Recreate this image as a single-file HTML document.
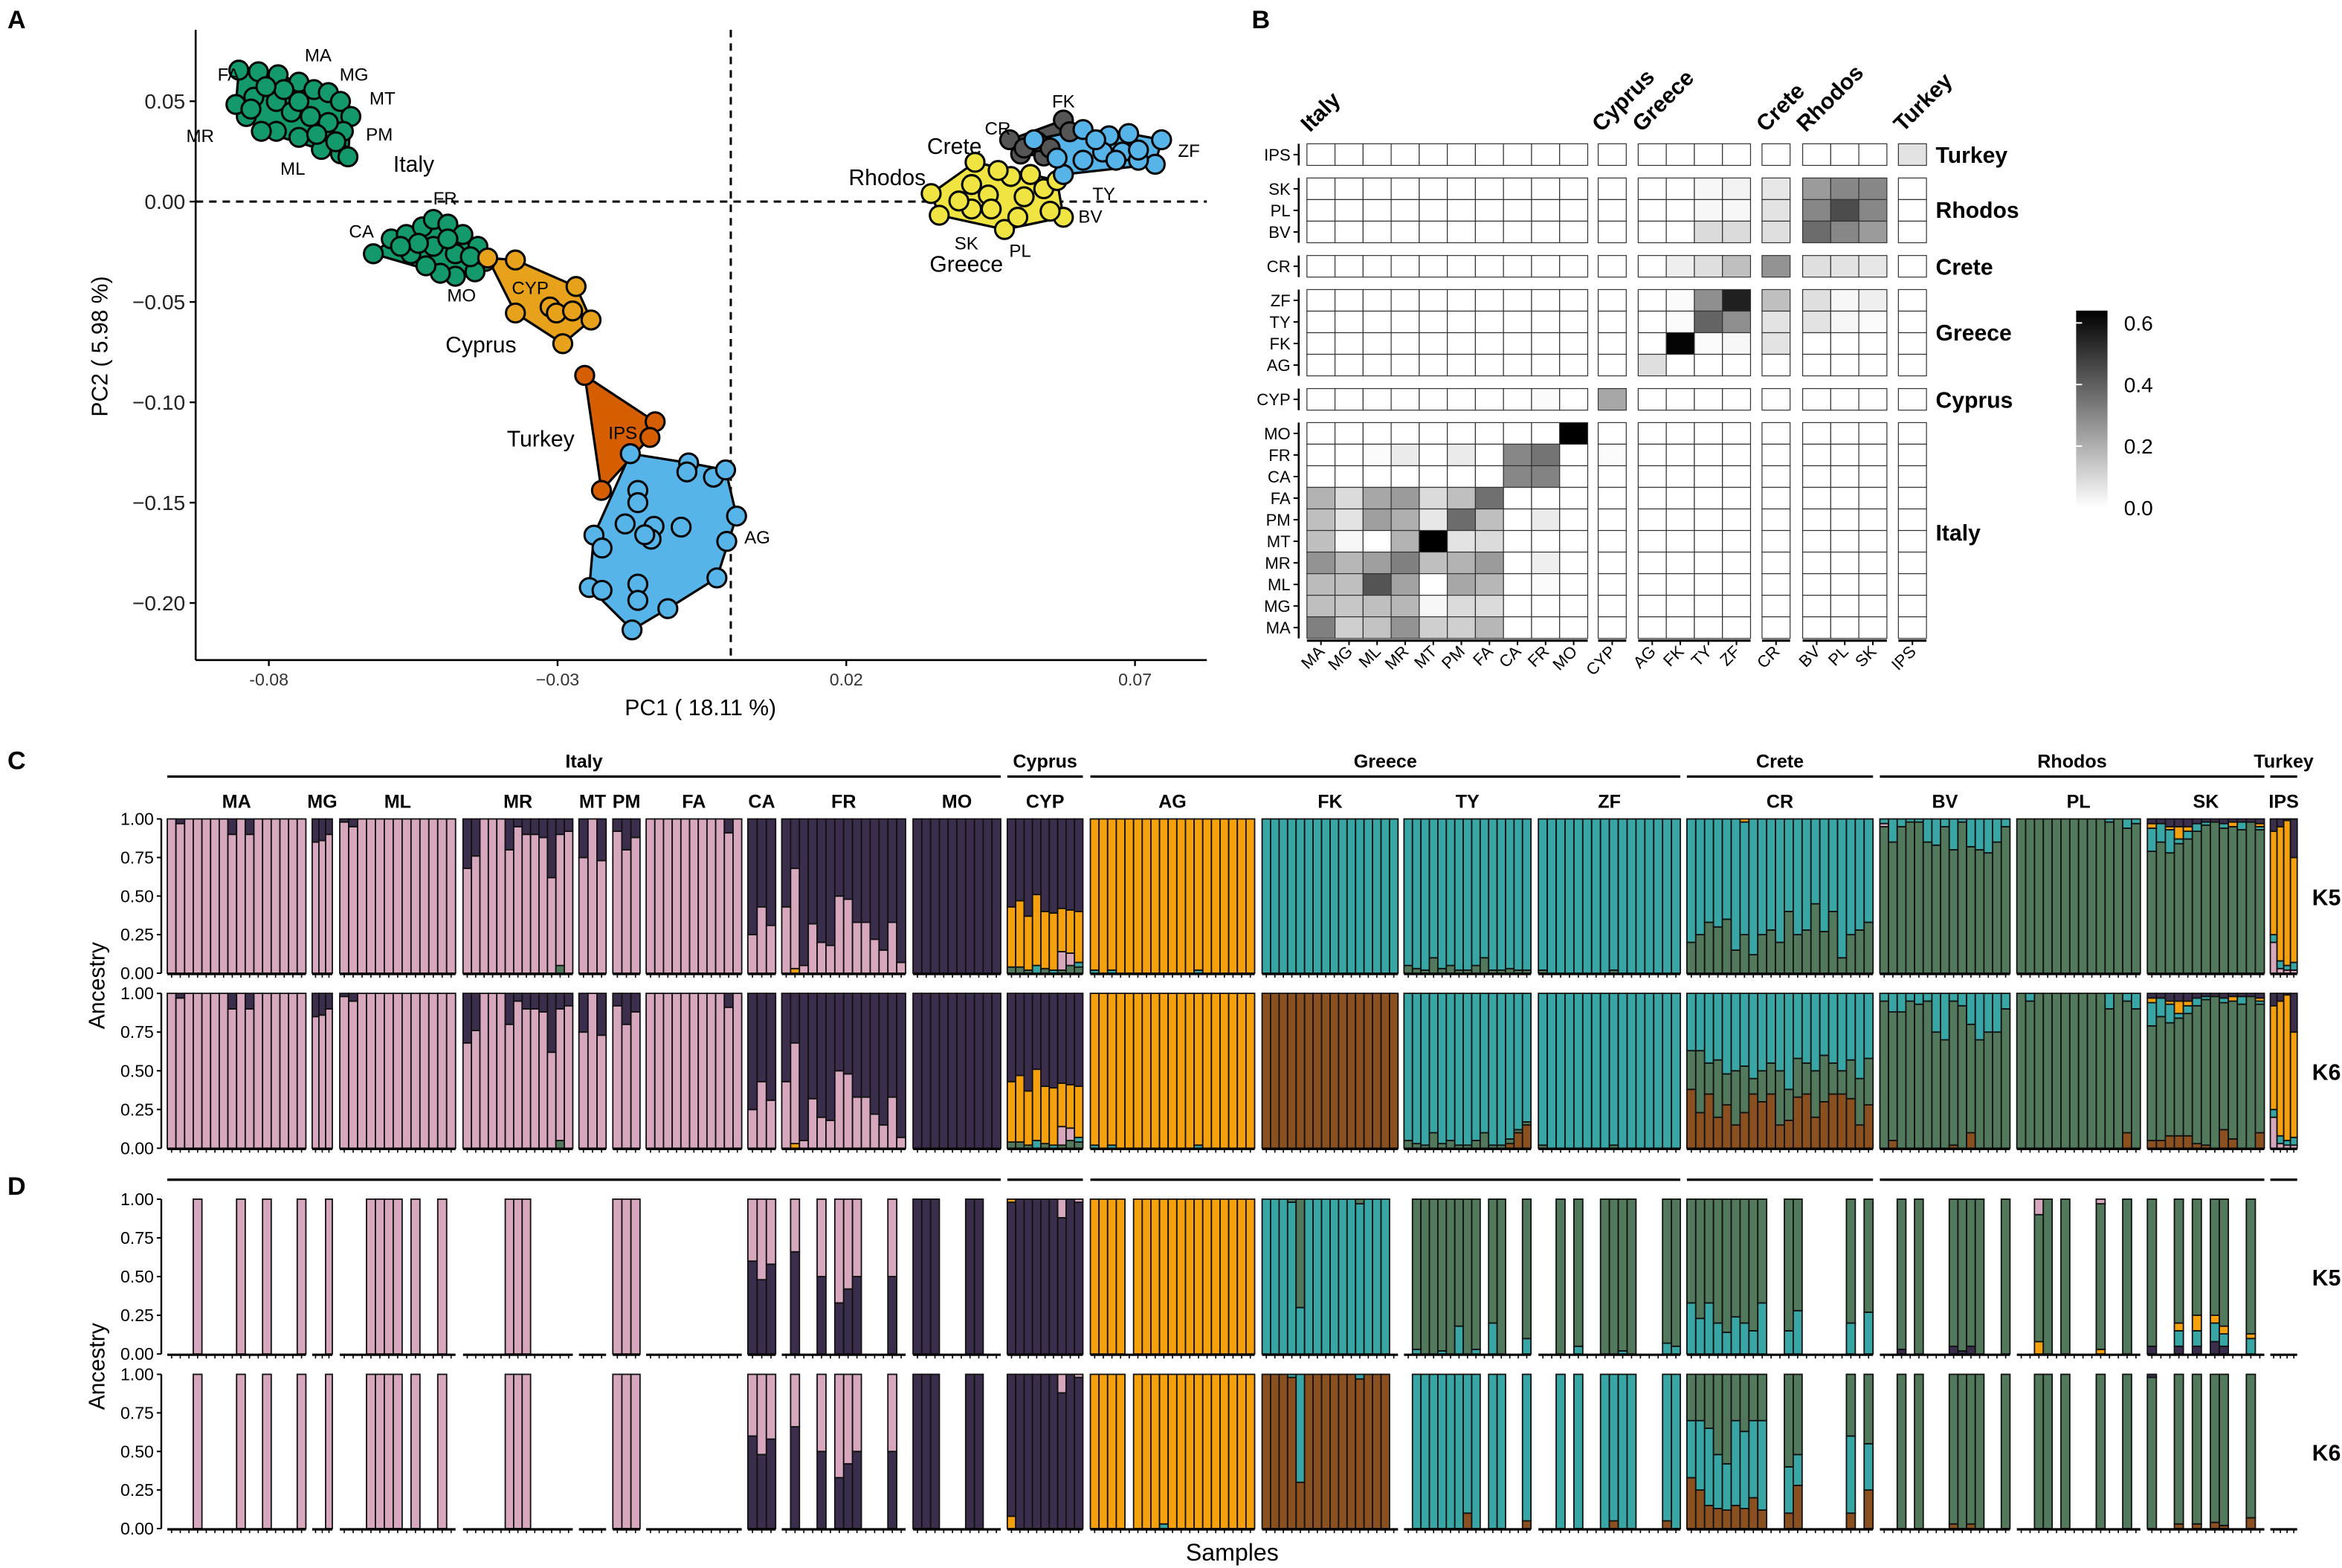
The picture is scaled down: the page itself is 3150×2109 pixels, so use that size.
<!DOCTYPE html>
<html><head><meta charset="utf-8"><title>PCA, Fst and Ancestry</title>
<style>
html,body{margin:0;padding:0;background:#fff;}
svg{display:block;font-family:"Liberation Sans",Arial,sans-serif;}
</style></head>
<body>
<svg id="fig" xmlns="http://www.w3.org/2000/svg" width="3150" height="2109" viewBox="0 0 1568 1050" preserveAspectRatio="none">
<rect x="0" y="0" width="1568" height="1050" fill="#fff"/>
<g id="panelA"></g>
<g id="panelB"></g>
<g id="panelC"></g>
<g id="panelD"></g>
<text x="5" y="19" font-size="17" font-weight="bold">A</text>
<text x="838" y="19" font-size="17" font-weight="bold">B</text>
<text x="5" y="515" font-size="17" font-weight="bold">C</text>
<text x="5" y="800" font-size="17" font-weight="bold">D</text>
</svg>
<script>
// ================= PANEL A DATA =================
const pcaGroups = ["italy-north","italy-south","cyprus","turkey","ag","rhodos","crete","greece"];
const pcaColors = ["#13996c","#13996c","#e8a11a","#d55e00","#56b4e9","#f0e442","#555555","#56b4e9"];
const italyNorthPC1 = [-0.0852,-0.0818,-0.0784,-0.0748,-0.0722,-0.0697,-0.0676,-0.0658,-0.0671,-0.0676,-0.0663,-0.0709,-0.0748,-0.0787,-0.0813,-0.0839,-0.0857,-0.0826,-0.0787,-0.0761,-0.0728,-0.0697,-0.0774,-0.0805,-0.0748,-0.0717,-0.0831,-0.0684];
const italyNorthPC2 = [0.0655,0.0647,0.0632,0.0595,0.0558,0.0543,0.0499,0.0424,0.035,0.0238,0.0223,0.026,0.032,0.035,0.035,0.0424,0.0484,0.052,0.0499,0.0446,0.0424,0.0394,0.0558,0.0573,0.0499,0.0335,0.0461,0.0298];
const italySouthPC1 = [-0.0619,-0.0588,-0.0562,-0.0534,-0.0515,-0.049,-0.0464,-0.0438,-0.0425,-0.0443,-0.0477,-0.0503,-0.0528,-0.0554,-0.0515,-0.0477,-0.049,-0.0541,-0.0451,-0.0572];
const italySouthPC2 = [-0.026,-0.0186,-0.0164,-0.0126,-0.0089,-0.0112,-0.0164,-0.0223,-0.0298,-0.035,-0.0372,-0.0357,-0.032,-0.026,-0.0223,-0.026,-0.0186,-0.0208,-0.0275,-0.0223];
const cyprusPC1 = [-0.0421,-0.0373,-0.0268,-0.0373,-0.0313,-0.0302,-0.0274,-0.0242,-0.0291];
const cyprusPC2 = [-0.0281,-0.0291,-0.0423,-0.0555,-0.0525,-0.0555,-0.0545,-0.059,-0.0708];
const turkeyPC1 = [-0.0253,-0.0131,-0.014,-0.0224];
const turkeyPC2 = [-0.0866,-0.1097,-0.1175,-0.1439];
const agPC1 = [-0.0174,-0.0073,-0.0076,-0.0030,-0.0009,0.0010,-0.0007,-0.0024,-0.0109,-0.0171,-0.0245,-0.0223,-0.0161,-0.0161,-0.0237,-0.0223,-0.0183,-0.0133,-0.0138,-0.0086,-0.0149,-0.0161,-0.0161];
const agPC2 = [-0.1256,-0.1302,-0.1347,-0.1373,-0.1337,-0.1567,-0.1693,-0.1875,-0.2028,-0.2134,-0.1923,-0.1937,-0.1906,-0.1987,-0.1662,-0.1726,-0.1606,-0.1618,-0.1682,-0.1622,-0.1660,-0.1439,-0.15];
const rhodosPC1 = [0.0347,0.0361,0.0423,0.0417,0.0446,0.0474,0.0417,0.0497,0.0576,0.0553,0.0485,0.0519,0.0463,0.0542,0.0451,0.0508,0.0565,0.0395];
const rhodosPC2 = [0.004,-0.0068,0.0196,0.0085,0.0033,-0.0139,-0.0037,-0.0078,-0.0078,-0.0048,0.0125,0.0135,0.0155,0.0064,-0.0037,0.0024,0.0105,0.0003];
const cretePC1 = [0.0483,0.0502,0.0576,0.0542,0.0531,0.0587,0.0553,0.0508];
const cretePC2 = [0.0308,0.0237,0.0406,0.0227,0.0298,0.0348,0.0267,0.0267];
const greecePC1 = [0.0746,0.0735,0.0689,0.0655,0.061,0.0644,0.0678,0.0706,0.0576,0.0565,0.061,0.0706,0.0632,0.0667,0.0525];
const greecePC2 = [0.0308,0.0186,0.0339,0.0328,0.0359,0.0247,0.0247,0.0206,0.0135,0.0217,0.0206,0.0257,0.0308,0.0206,0.0308];
const pcaX = [italyNorthPC1,italySouthPC1,cyprusPC1,turkeyPC1,agPC1,rhodosPC1,cretePC1,greecePC1];
const pcaY = [italyNorthPC2,italySouthPC2,cyprusPC2,turkeyPC2,agPC2,rhodosPC2,cretePC2,greecePC2];
const pc1Ticks = [-0.08,-0.03,0.02,0.07];
const pc1TickLabels = ["-0.08","\u22120.03","0.02","0.07"];
const pc2Ticks = [0.05,0.00,-0.05,-0.10,-0.15,-0.20];
const pc2TickLabels = ["0.05","0.00","\u22120.05","\u22120.10","\u22120.15","\u22120.20"];

// ================= PANEL B DATA =================
const fstRows = ["IPS","SK","PL","BV","CR","ZF","TY","FK","AG","CYP","MO","FR","CA","FA","PM","MT","MR","ML","MG","MA"];
const fstCols = ["MA","MG","ML","MR","MT","PM","FA","CA","FR","MO","CYP","AG","FK","TY","ZF","CR","BV","PL","SK","IPS"];
const fstValues = [
 [0,0,0,0,0,0,0,0,0,0, 0, 0,0,0,0, 0, 0,0,0, 0.07],
 [0,0,0,0,0,0,0,0,0,0, 0, 0,0,0.02,0.03, 0.06, 0.25,0.30,0.30, 0],
 [0,0,0,0,0,0,0,0,0,0, 0, 0,0,0.02,0.02, 0.07, 0.30,0.45,0.30, 0],
 [0,0,0,0,0,0,0,0,0,0, 0, 0,0,0.09,0.09, 0.08, 0.37,0.30,0.25, 0],
 [0,0,0,0,0,0,0,0,0,0, 0, 0,0.04,0.08,0.16, 0.27, 0.08,0.07,0.06, 0],
 [0,0,0,0,0,0,0,0,0,0, 0, 0,0.01,0.28,0.56, 0.16, 0.08,0.02,0.04, 0],
 [0,0,0,0,0,0,0,0,0,0, 0, 0,0.01,0.39,0.28, 0.07, 0.07,0.02,0.01, 0],
 [0,0,0,0,0,0,0,0,0,0, 0, 0,0.63,0.01,0.02, 0.07, 0,0,0, 0],
 [0,0,0,0,0,0,0,0,0,0, 0, 0.08,0,0,0, 0, 0,0,0, 0],
 [0,0,0,0,0,0,0,0,0.01,0, 0.22, 0,0,0,0, 0, 0,0,0, 0],
 [0,0,0,0,0,0,0,0,0,0.64, 0, 0,0,0,0, 0, 0,0,0, 0],
 [0,0,0.01,0.05,0,0.05,0,0.30,0.35,0, 0.01, 0,0,0,0, 0, 0,0,0, 0],
 [0,0,0,0,0,0,0,0.30,0.31,0, 0, 0,0,0,0, 0, 0,0,0, 0],
 [0.19,0.09,0.22,0.25,0.09,0.16,0.36,0,0,0, 0, 0,0,0,0, 0, 0,0,0, 0],
 [0.16,0.07,0.24,0.20,0.06,0.37,0.16,0,0.05,0, 0, 0,0,0,0, 0, 0,0,0, 0],
 [0.16,0.02,0,0.19,0.64,0.07,0.09,0,0,0, 0, 0,0,0,0, 0, 0,0,0, 0],
 [0.27,0.18,0.24,0.32,0.16,0.19,0.25,0,0.04,0, 0, 0,0,0,0, 0, 0,0,0, 0],
 [0.17,0.16,0.43,0.23,0,0.22,0.18,0,0.01,0, 0, 0,0,0,0, 0, 0,0,0, 0],
 [0.16,0.14,0.16,0.18,0.02,0.09,0.09,0,0,0, 0, 0,0,0,0, 0, 0,0,0, 0],
 [0.32,0.12,0.15,0.27,0.12,0.12,0.18,0,0,0, 0, 0,0,0,0, 0, 0,0,0, 0]
];
const fstLegendTicks = [0.0,0.2,0.4,0.6];
const fstMax = 0.64;

// ================= PANEL C/D DATA =================
const popNames = ["MA","MG","ML","MR","MT","PM","FA","CA","FR","MO","CYP","AG","FK","TY","ZF","CR","BV","PL","SK","IPS"];
const popCounts = [16,3,13,13,3,3,11,3,14,10,9,19,16,15,16,21,15,14,13,4];
const regionNames = ["Italy","Cyprus","Greece","Crete","Rhodos","Turkey"];
const regionFirstPop = [0,10,11,15,16,19];
const regionLastPop = [9,10,14,15,18,19];
const clusterColors = ["#d6a7bd","#3b2e4d","#f5a10e","#38a6a4","#52795b","#8b501f"];
// cluster indices: 0 pink, 1 purple, 2 orange, 3 teal, 4 green, 5 brown
// layers bottom->top; v=null => remainder
const k5Layers = {
 MA:[[0,null],[1,[0,0.03,0,0,0,0,0,0.1,0,0.1,0,0,0,0,0,0]]],
 MG:[[0,null],[1,[0.15,0.14,0.1]]],
 ML:[[0,null],[1,[0.02,0.05,0,0,0,0,0,0,0,0,0,0,0]]],
 MR:[[4,[0,0,0,0,0,0,0,0,0,0,0,0.05,0]],[0,null],[1,[0.32,0.24,0,0,0,0.2,0.05,0.1,0.1,0.12,0.38,0.1,0.08]]],
 MT:[[0,null],[1,[0.25,0,0.27]]],
 PM:[[0,null],[1,[0.08,0.2,0.12]]],
 FA:[[0,null],[1,[0,0,0,0,0,0,0,0,0,0.09,0]]],
 CA:[[0,[0.25,0.43,0.31]],[1,null]],
 FR:[[2,[0,0.03,0,0,0,0,0,0,0,0,0,0,0,0]],[0,[0.43,0.65,0.05,0.32,0.2,0.18,0.5,0.48,0.33,0.33,0.22,0.15,0.33,0.07]],[1,null]],
 MO:[[1,null]],
 CYP:[[4,[0.04,0.04,0.02,0,0.03,0,0.02,0.05,0.04]],[3,[0,0,0,0.05,0,0.02,0,0,0.03]],[0,[0,0,0,0,0,0,0.12,0.08,0]],[2,[0.39,0.43,0.35,0.46,0.37,0.37,0.28,0.28,0.33]],[1,null]],
 AG:[[3,[0.02,0,0.02,0,0,0,0,0,0,0,0,0,0.02,0,0,0,0,0,0]],[2,null]],
 FK:[[3,null]],
 TY:[[4,[0.05,0.03,0.02,0.1,0.03,0.05,0.02,0.02,0.05,0.1,0.02,0.02,0.03,0.02,0.02]],[3,null]],
 ZF:[[4,[0.02,0,0,0,0,0,0,0,0.02,0,0,0,0,0,0,0]],[3,null]],
 CR:[[4,[0.2,0.25,0.33,0.3,0.35,0.15,0.25,0.12,0.25,0.28,0.2,0.4,0.25,0.28,0.45,0.27,0.4,0.1,0.25,0.28,0.33]],[3,null],[2,[0,0,0,0,0,0,0.02,0,0,0,0,0,0,0,0,0,0,0,0,0,0]]],
 BV:[[4,null],[0,[0.02,0,0,0,0,0,0,0,0,0,0,0,0,0,0]],[3,[0.03,0.15,0.05,0.02,0.02,0.15,0.17,0.05,0.2,0.02,0.18,0.2,0.22,0.15,0.05]]],
 PL:[[4,null],[3,[0,0,0,0,0,0,0,0,0,0,0.02,0,0.06,0.03]]],
 SK:[[4,null],[3,[0.15,0.12,0.15,0.03,0.05,0.05,0.02,0,0.03,0,0.05,0,0.02]],[2,[0.03,0,0.02,0.08,0.03,0,0,0,0,0.03,0,0,0.02]],[1,[0.03,0.03,0.05,0.05,0.05,0.03,0.02,0.02,0.03,0.02,0.02,0.02,0.03]]],
 IPS:[[0,[0.2,0.03,0.02,0.02]],[3,[0.05,0.05,0.03,0.05]],[2,null],[1,[0.08,0.05,0.01,0.25]]]
};
const k6Layers = {
 FK:[[5,null]],
 TY:[[5,[0,0,0,0,0,0,0,0,0,0,0,0,0.03,0.1,0.15]],[4,[0.05,0.03,0.02,0.1,0.03,0.05,0.02,0.02,0.05,0.1,0.02,0.02,0.03,0.02,0.02]],[3,null]],
 CR:[[5,[0.38,0.23,0.35,0.2,0.28,0.15,0.23,0.35,0.3,0.35,0.15,0.18,0.33,0.35,0.2,0.3,0.35,0.35,0.32,0.15,0.28]],[4,[0.25,0.4,0.2,0.37,0.2,0.35,0.3,0.1,0.2,0.2,0.35,0.2,0.25,0.2,0.3,0.3,0.2,0.15,0.25,0.3,0.3]],[3,null]],
 BV:[[5,[0,0.05,0,0,0,0,0,0,0.02,0,0.1,0,0,0,0]],[4,null],[3,[0.05,0.12,0.12,0.05,0.07,0.05,0.25,0.3,0.05,0.08,0.2,0.3,0.25,0.25,0.1]]],
 PL:[[5,[0,0,0,0,0,0,0,0,0,0,0,0,0.1,0]],[4,null],[3,[0,0.05,0,0,0,0,0,0,0,0,0.1,0,0.05,0.1]]],
 SK:[[5,[0.05,0.05,0.08,0.08,0.08,0.03,0.02,0,0.12,0.06,0,0,0.1]],[4,null],[3,[0.15,0.12,0.12,0.03,0.05,0.05,0.02,0,0.03,0,0.05,0,0.02]],[2,[0.03,0,0.02,0.08,0.03,0,0,0,0,0.03,0,0,0.02]],[1,[0.03,0.03,0.05,0.05,0.05,0.03,0.02,0.02,0.03,0.02,0.02,0.02,0.03]]]
};
// Panel D: visible sample indices per population
const subsetVisible = {
 MA:[3,8,11,15], MG:[2], ML:[3,4,5,6,8,11], MR:[5,6,7], MT:[], PM:[0,1,2], FA:[],
 CA:[0,1,2], FR:[1,4,6,7,8,12], MO:[0,1,2,6,7], CYP:[0,1,2,3,4,5,6,7,8],
 AG:[0,1,2,3,5,6,7,8,9,10,11,12,13,14,15,16,17,18], FK:[0,1,2,3,4,5,6,7,8,9,10,11,12,13,14],
 TY:[1,2,3,4,5,6,7,8,10,11,14], ZF:[2,4,7,8,9,10,14,15], CR:[0,1,2,3,4,5,6,7,8,11,12,18,20],
 BV:[2,4,8,9,10,11,14], PL:[2,3,5,9,12], SK:[0,3,5,7,8,11], IPS:[]
};
const subsetK5 = {
 CA:[[1,[0.6,0.48,0.58]],[0,null]],
 FR:[[1,[0,0.66,0,0,0.5,0,0.33,0.42,0.5,0,0,0,0.5,0]],[0,null]],
 MO:[[1,null]],
 CYP:[[1,null],[0,[0,0,0,0,0,0,0.12,0,0.02]],[2,[0.02,0,0,0,0,0,0,0,0]]],
 AG:[[2,null]],
 FK:[[3,null],[4,[0,0,0,0.02,0.7,0,0,0,0,0,0,0.03,0,0,0,0]]],
 TY:[[3,[0,0.03,0,0,0.02,0,0.18,0,0.03,0,0.2,0,0,0,0.1]],[4,null]],
 ZF:[[3,[0,0,0,0,0.05,0,0,0,0,0.02,0,0,0,0,0.07,0.05]],[4,null]],
 CR:[[3,[0.33,0.23,0.33,0.2,0.14,0.24,0.2,0.15,0.33,0,0,0.15,0.28,0,0,0,0,0,0.2,0,0.27]],[4,null]],
 BV:[[1,[0,0,0.03,0,0,0,0,0,0.05,0.02,0.05,0,0,0,0]],[4,null]],
 PL:[[2,[0,0,0.08,0,0,0,0,0,0,0.03,0,0,0,0]],[4,null],[0,[0,0,0.1,0,0,0,0,0,0,0.03,0,0,0,0]]],
 SK:[[1,[0.05,0,0,0.05,0,0.05,0,0.08,0.05,0,0,0,0]],[3,[0,0,0,0.1,0,0.1,0,0.12,0.08,0,0,0.1,0]],[2,[0,0,0,0.05,0,0.1,0,0.05,0.05,0,0,0.03,0]],[4,null]]
};
const subsetK6 = {
 CA:[[1,[0.6,0.48,0.58]],[0,null]],
 FR:[[1,[0,0.66,0,0,0.5,0,0.33,0.42,0.5,0,0,0,0.5,0]],[0,null]],
 MO:[[1,null]],
 CYP:[[2,[0.08,0,0,0,0,0,0,0,0]],[1,null],[0,[0,0,0,0,0,0,0.12,0,0.02]]],
 AG:[[3,[0,0,0,0,0,0,0,0,0.03,0,0,0,0,0,0,0,0,0,0]],[2,null]],
 FK:[[5,null],[3,[0,0,0,0.02,0.7,0,0,0,0,0,0,0.03,0,0,0,0]]],
 TY:[[5,[0,0,0,0,0,0,0,0.1,0,0,0,0,0,0,0.05]],[3,null]],
 ZF:[[5,[0,0,0,0,0,0,0,0,0.05,0,0,0,0,0,0.05,0]],[3,null]],
 CR:[[5,[0.33,0.25,0.15,0.13,0.12,0.15,0.13,0.2,0.12,0,0,0.1,0.28,0,0,0,0,0,0.1,0,0.25]],[3,[0.37,0.45,0.5,0.35,0.3,0.55,0.5,0.5,0.58,0,0,0.3,0.2,0,0,0,0,0,0.5,0,0.3]],[4,null]],
 BV:[[5,[0,0,0,0,0,0,0,0,0.03,0,0.03,0,0,0,0]],[4,null]],
 PL:[[4,null]],
 SK:[[5,[0,0,0,0.03,0,0.03,0,0.04,0.02,0,0,0.07,0]],[4,null],[1,[0.02,0,0,0,0,0,0,0,0,0,0,0,0]]]
};
const ancestryTicks = [1.00,0.75,0.50,0.25,0.00];
const ancestryTickLabels = ["1.00","0.75","0.50","0.25","0.00"];

// ================= LAYOUT (not data) =================
const popStartX = [112,209,227.5,310,387.6,410.3,432.6,500.7,523.4,611.3,674.4,730,845,940,1030,1129.4,1258.6,1350.3,1437.7,1520];
const popEndX   = [204.8,222.5,305,383.5,405.8,428.5,496.6,519.3,606.3,670,725,840,936,1025,1125,1254,1345.7,1433,1516,1538];

const NS = "http://www.w3.org/2000/svg";
function mk(tag, attrs, parent){
  const e = document.createElementNS(NS, tag);
  for (const k in attrs) e.setAttribute(k, attrs[k]);
  parent.appendChild(e);
  return e;
}
function txt(parent, x, y, s, size, opts){
  const e = mk("text", Object.assign({x:x, y:y, "font-size":size}, opts||{}), parent);
  e.textContent = s;
  return e;
}

// ================= DRAW PANEL A =================
(function(){
  const g = document.getElementById("panelA");
  const xS = v => 180 + (v + 0.08) * 3866;
  const yS = v => 135 - v * 1344;
  const left = 131, right = 808, top = 20, bottom = 442;
  // dashed zero lines
  const hz = mk("line",{x1:left,x2:right,y1:yS(0),y2:yS(0),stroke:"#000","stroke-width":1.5,"stroke-dasharray":"5,4"},g);
  
  
  const vz = mk("line",{x1:xS(0),x2:xS(0),y1:top,y2:bottom,stroke:"#000","stroke-width":1.5,"stroke-dasharray":"5,4"},g);
  
  
  // hulls and points
  function hull(pts){
    const p = pts.slice().sort((a,b)=>a[0]-b[0]||a[1]-b[1]);
    const cr=(o,a,b)=>(a[0]-o[0])*(b[1]-o[1])-(a[1]-o[1])*(b[0]-o[0]);
    const lo=[],up=[];
    for(const q of p){while(lo.length>=2&&cr(lo[lo.length-2],lo[lo.length-1],q)<=0)lo.pop();lo.push(q);}
    for(let i=p.length-1;i>=0;i--){const q=p[i];while(up.length>=2&&cr(up[up.length-2],up[up.length-1],q)<=0)up.pop();up.push(q);}
    up.pop();lo.pop();return lo.concat(up);
  }
  pcaGroups.forEach((name,gi)=>{
    const pts = pcaX[gi].map((v,i)=>[xS(v), yS(pcaY[gi][i])]);
    const h = hull(pts);
    const poly = mk("polygon",{points:h.map(p=>p.join(",")).join(" "),fill:pcaColors[gi],stroke:"#000","stroke-width":1.6,"stroke-linejoin":"round"},g);
    
    
  });
  pcaGroups.forEach((name,gi)=>{
    pcaX[gi].forEach((v,i)=>{
      const c = mk("circle",{cx:xS(v),cy:yS(pcaY[gi][i]),r:6.3,fill:pcaColors[gi],stroke:"#000","stroke-width":1.5},g);
      
      
    });
  });
  // axes
  const ax = mk("line",{x1:left,x2:left,y1:top,y2:bottom,stroke:"#000","stroke-width":1.3},g);
  
  
  const bx = mk("line",{x1:left,x2:right,y1:bottom,y2:bottom,stroke:"#000","stroke-width":1.3},g);
  
  
  pc1Ticks.forEach((v,i)=>{
    const t = mk("line",{x1:xS(v),x2:xS(v),y1:bottom,y2:bottom+4,stroke:"#000","stroke-width":1.2},g);
    
    
    const l = txt(g, xS(v), bottom+17, pc1TickLabels[i], 11.5, {"text-anchor":"middle",fill:"#333"});
    
    
  });
  pc2Ticks.forEach((v,i)=>{
    const t = mk("line",{x1:left-4,x2:left,y1:yS(v),y2:yS(v),stroke:"#000","stroke-width":1.2},g);
    
    
    const l = txt(g, left-7, yS(v)+5, pc2TickLabels[i], 14, {"text-anchor":"end",fill:"#222"});
    
    
  });
  const xt = txt(g, 469, 479, "PC1 ( 18.11 %)", 15, {"text-anchor":"middle"});
  
  
  const yt = txt(g, 0, 0, "PC2 ( 5.98 %)", 15, {"text-anchor":"middle",transform:"translate(72,232) rotate(-90)"});
  
  
  const labels = [["FA",153,54,12],["MA",213,41,12],["MG",237,54,12],["MT",256,70,12],["PM",254,94,12],["MR",134,95,12],["ML",196,117,12],["Italy",277,115,15],
    ["FR",298,137,12],["CA",242,159,12],["MO",309,202,12],["CYP",355,197,12],["Cyprus",322,236,15],["Turkey",362,299,15],["IPS",417,294,12],["AG",507,364,12],
    ["FK",712,72,12],["CR",668,90,12],["Crete",639,103,15],["Rhodos",594,124,15],["ZF",796,105,12],["TY",739,134,12],["BV",730,149,12],["SK",647,167,12],["PL",683,172,12],["Greece",647,182,15]];
  labels.forEach(a=>{
    const l = txt(g, a[1], a[2], a[0], a[3], {"text-anchor":"middle"});
    
    
  });
})();

// ================= DRAW PANEL B =================
(function(){
  const g = document.getElementById("panelB");
  const colGroupSizes=[10,1,4,1,3,1], colGroupX=[875,1070,1096.8,1179.7,1206.9,1271];
  const rowGroupSizes=[1,3,1,4,1,10], rowGroupY=[96.3,119.2,171.1,193.9,260.2,283];
  const cw=18.8, ch=14.45;
  const colX=[], rowY=[];
  colGroupSizes.forEach((n,k)=>{for(let i=0;i<n;i++)colX.push(colGroupX[k]+i*cw);});
  rowGroupSizes.forEach((n,k)=>{for(let i=0;i<n;i++)rowY.push(rowGroupY[k]+i*ch);});
  const shade = v => { const s = Math.round(255*(1-Math.min(v/fstMax,1))); return "rgb("+s+","+s+","+s+")"; };
  fstRows.forEach((r,ri)=>{
    fstCols.forEach((c,ci)=>{
      const rect = mk("rect",{x:colX[ci],y:rowY[ri],width:cw,height:ch,fill:shade(fstValues[ri][ci]),stroke:"#333","stroke-width":0.6},g);
      
      
    });
    const t = txt(g, 864, rowY[ri]+ch/2+4, r, 11, {"text-anchor":"end"});
    
    
    const tk = mk("line",{x1:866,x2:869,y1:rowY[ri]+ch/2,y2:rowY[ri]+ch/2,stroke:"#000","stroke-width":1},g);
    
    
  });
  // left axis lines per row group
  rowGroupSizes.forEach((n,k)=>{
    const l = mk("line",{x1:869.5,x2:869.5,y1:rowGroupY[k],y2:rowGroupY[k]+n*ch,stroke:"#000","stroke-width":1.3},g);
    
    
  });
  colGroupSizes.forEach((n,k)=>{
    const l = mk("line",{x1:colGroupX[k],x2:colGroupX[k]+n*cw,y1:429,y2:429,stroke:"#000","stroke-width":1.6},g);
    
    
  });
  fstCols.forEach((c,ci)=>{
    const cx = colX[ci]+cw/2;
    const tk = mk("line",{x1:cx,x2:cx,y1:429,y2:432,stroke:"#000","stroke-width":1},g);
    
    
    const t = txt(g, 0, 0, c, 11, {"text-anchor":"end",transform:"translate("+(cx+3)+",437) rotate(-45)"});
    
    
  });
  const topLabels=[["Italy",877],["Cyprus",1072],["Greece",1099],["Crete",1182],["Rhodos",1209],["Turkey",1274]];
  topLabels.forEach(a=>{
    const t = txt(g, 0, 0, a[0], 15, {"font-weight":"bold",transform:"translate("+a[1]+",89) rotate(-45)"});
    
    
  });
  const rightLabels=[["Turkey",109],["Rhodos",146],["Crete",184],["Greece",228],["Cyprus",273],["Italy",362]];
  rightLabels.forEach(a=>{
    const t = txt(g, 1296, a[1], a[0], 15, {"font-weight":"bold"});
    
    
  });
  // legend colorbar
  const defs = mk("defs",{},g);
  const lg = mk("linearGradient",{id:"fstGrad",x1:0,y1:1,x2:0,y2:0},defs);
  mk("stop",{offset:"0","stop-color":"#fff"},lg);
  mk("stop",{offset:"1","stop-color":"#000"},lg);
  const ly = v => 340 - v/fstMax*132;
  const bar = mk("rect",{x:1390,y:ly(fstMax),width:21,height:ly(0)-ly(fstMax),fill:"url(#fstGrad)"},g);
  
  
  fstLegendTicks.forEach(v=>{
    const t = txt(g, 1422, ly(v)+5, v.toFixed(1), 14, {});
    
    
    const a = mk("line",{x1:1390,x2:1394,y1:ly(v),y2:ly(v),stroke:"#fff","stroke-width":1},g);
    
    
  });
})();

// ================= DRAW PANELS C & D =================
function drawStructure(g, layersFor, yTop, yBot, visible, frameName){
  const h = yBot - yTop;
  const yS = v => yBot - v*h;
  popNames.forEach((p,pi)=>{
    const n = popCounts[pi];
    const x0 = popStartX[pi], x1 = popEndX[pi];
    const w = (x1-x0)/n;
    const layers = layersFor(p);
    for(let s=0;s<n;s++){
      const bx = x0 + s*w;
      const tk = mk("line",{x1:bx+w/2,x2:bx+w/2,y1:yBot,y2:yBot+3,stroke:"#000","stroke-width":0.8},g);
      
      
      if (visible && visible[p].indexOf(s) < 0) continue;
      let fixed = 0;
      layers.forEach(L=>{ if(L[1]) fixed += (L[1][s]||0); });
      let acc = 0;
      layers.forEach(L=>{
        const v = L[1] ? (L[1][s]||0) : Math.max(0,1-fixed);
        if (v <= 0) return;
        const r = mk("rect",{x:bx,y:yS(acc+v),width:w,height:v*h,fill:clusterColors[L[0]],stroke:"#111","stroke-width":0.9},g);
        
        
        acc += v;
      });
    }
    const base = mk("line",{x1:x0,x2:x1,y1:yBot+0.5,y2:yBot+0.5,stroke:"#000","stroke-width":1.6},g);
    
    
  });
  const ax = mk("line",{x1:108,x2:108,y1:yTop,y2:yBot,stroke:"#000","stroke-width":1.2},g);
  
  
  ancestryTicks.forEach((v,i)=>{
    const t = mk("line",{x1:105,x2:108,y1:yS(v),y2:yS(v),stroke:"#000","stroke-width":1},g);
    
    
    const l = txt(g, 103, yS(v)+4, ancestryTickLabels[i], 11.5, {"text-anchor":"end"});
    
    
  });
  const kl = txt(g, 1548, (yTop+yBot)/2+6, frameName, 15, {"font-weight":"bold"});
  
  
}
function headers(g, lineY, withLabels){
  regionNames.forEach((r,ri)=>{
    const x0 = popStartX[regionFirstPop[ri]], x1 = popEndX[regionLastPop[ri]];
    const l = mk("line",{x1:x0,x2:x1,y1:lineY,y2:lineY,stroke:"#000","stroke-width":1.6},g);
    
    
    if (withLabels){
      const t = txt(g, (x0+x1)/2, lineY-6, r, 12.5, {"text-anchor":"middle","font-weight":"bold"});
      
      
    }
  });
  if (withLabels){
    popNames.forEach((p,pi)=>{
      const t = txt(g, (popStartX[pi]+popEndX[pi])/2, lineY+21, p, 12.5, {"text-anchor":"middle","font-weight":"bold"});
      
      
    });
  }
}
(function(){
  const g = document.getElementById("panelC");
  headers(g, 520, true);
  drawStructure(g, p=>k5Layers[p], 548.4, 651.7, null, "K5");
  drawStructure(g, p=>k6Layers[p]||k5Layers[p], 665.2, 768.9, null, "K6");
  const a = txt(g, 0, 0, "Ancestry", 15, {"text-anchor":"middle",transform:"translate(70,660) rotate(-90)"});
  
  
})();
(function(){
  const g = document.getElementById("panelD");
  headers(g, 790, false);
  const dflt = p => (["MA","MG","ML","MR","MT","PM","FA"].indexOf(p)>=0) ? [[0,null]] : (k5Layers[p]);
  drawStructure(g, p=>subsetK5[p]||dflt(p), 803, 906.7, subsetVisible, "K5");
  drawStructure(g, p=>subsetK6[p]||dflt(p), 920.3, 1023.6, subsetVisible, "K6");
  const a = txt(g, 0, 0, "Ancestry", 15, {"text-anchor":"middle",transform:"translate(70,915) rotate(-90)"});
  
  
  const s = txt(g, 825, 1045, "Samples", 16, {"text-anchor":"middle"});
  
  
})();
</script>
</body></html>
